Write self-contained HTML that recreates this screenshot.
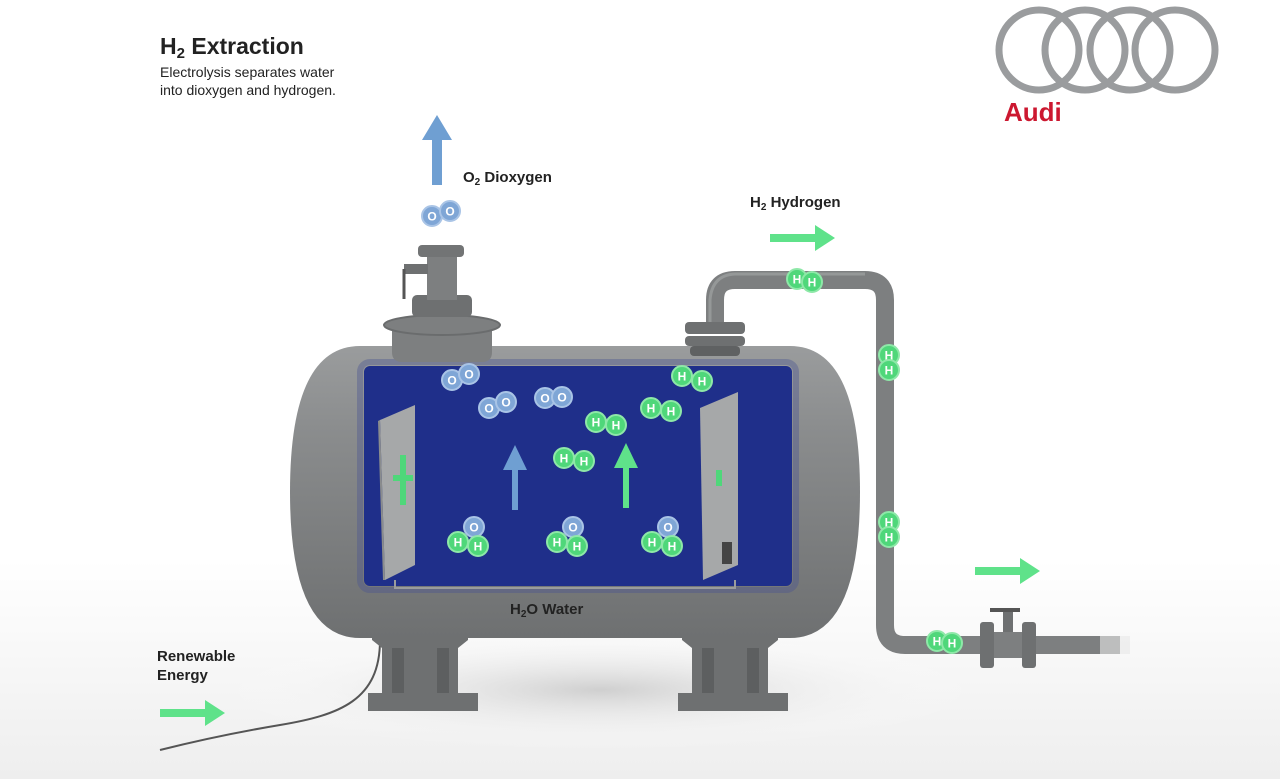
<!DOCTYPE html>
<html><head><meta charset="utf-8"><style>
body{margin:0;width:1280px;height:779px;overflow:hidden;background:#fff;font-family:"Liberation Sans",sans-serif}
svg{position:absolute;left:0;top:0}
</style></head><body>
<svg width="1280" height="779" viewBox="0 0 1280 779" font-family="Liberation Sans, sans-serif">
<defs>
<linearGradient id="tank" x1="0" y1="0" x2="0" y2="1">
<stop offset="0" stop-color="#9a9c9d"/><stop offset="0.3" stop-color="#8a8c8d"/><stop offset="1" stop-color="#6e7071"/></linearGradient>
<linearGradient id="floor" x1="0" y1="0" x2="0" y2="1">
<stop offset="0" stop-color="#fff"/><stop offset="1" stop-color="#eeeeee"/></linearGradient>
<radialGradient id="sh" cx="0.5" cy="0.5" r="0.5"><stop offset="0" stop-color="#cfcfcf"/><stop offset="1" stop-color="#fff" stop-opacity="0"/></radialGradient>
<g id="O"><circle r="10" fill="#7fa6d6" stroke="#a9c4e6" stroke-width="2"/><text y="4.5" text-anchor="middle" font-size="12" font-weight="bold" fill="#fff">O</text></g>
<g id="H"><circle r="10" fill="#4fd77a" stroke="#8ee8a8" stroke-width="2"/><text y="4.5" text-anchor="middle" font-size="12" font-weight="bold" fill="#fff">H</text></g>
</defs>
<rect x="0" y="560" width="1280" height="219" fill="url(#floor)"/>
<ellipse cx="600" cy="690" rx="380" ry="60" fill="url(#sh)"/>
<!-- text -->
<text x="160" y="54" font-size="23" font-weight="bold" fill="#222">H<tspan font-size="15" dy="4">2</tspan><tspan dy="-4"> Extraction</tspan></text>
<text x="160" y="77" font-size="14" fill="#222">Electrolysis separates water</text>
<text x="160" y="95" font-size="14" fill="#222">into dioxygen and hydrogen.</text>
<!-- Audi -->
<g fill="none" stroke="#9a9c9e" stroke-width="7">
<circle cx="1039" cy="50" r="40"/><circle cx="1085" cy="50" r="40"/><circle cx="1130" cy="50" r="40"/><circle cx="1175" cy="50" r="40"/></g>
<text x="1004" y="121" font-size="26" font-weight="bold" fill="#cc1830">Audi</text>
<!-- labels -->
<text x="463" y="182" font-size="15" font-weight="bold" fill="#222">O<tspan font-size="10" dy="3">2</tspan><tspan dy="-3"> Dioxygen</tspan></text>
<text x="750" y="207" font-size="15" font-weight="bold" fill="#222">H<tspan font-size="10" dy="3">2</tspan><tspan dy="-3"> Hydrogen</tspan></text>
<text x="157" y="661" font-size="15" font-weight="bold" fill="#222">Renewable</text>
<text x="157" y="680" font-size="15" font-weight="bold" fill="#222">Energy</text>
<!-- arrows -->
<g fill="#5fe28a">
<path d="M160 709h45v-9l20 13-20 13v-9h-45z"/>
<path d="M770 234h45v-9l20 13-20 13v-9h-45z"/>
<path d="M975 567h45v-9l20 13-20 13v-9h-45z"/>
</g>
<path d="M432 185v-45h-10l15-25 15 25h-10v45z" fill="#6f9fd2"/>
<use href="#O" x="432" y="216"/><use href="#O" x="450" y="211"/>
<!-- cable -->
<path d="M380 640 C380 700 340 715 280 725 C220 735 180 745 160 750" fill="none" stroke="#555" stroke-width="2"/>
<!-- pipe -->
<g fill="none" stroke="#7d7f80" stroke-width="18" stroke-linejoin="round">
<path d="M715 330 V300 Q715 280 735 280 H865 Q885 280 885 300 V625 Q885 645 905 645 H1120"/>
</g>
<g fill="none" stroke="#a0a2a3" stroke-width="3" opacity="0.7"><path d="M710 330 V300 Q712 275 735 274 H865"/></g>
<rect x="1100" y="636" width="30" height="18" fill="#e8e8e8" opacity="0.6"/>
<!-- valve on pipe -->
<rect x="980" y="622" width="14" height="46" rx="3" fill="#6e7071"/>
<rect x="1022" y="622" width="14" height="46" rx="3" fill="#6e7071"/>
<rect x="994" y="632" width="28" height="26" fill="#7d7f80"/>
<rect x="1003" y="610" width="10" height="22" fill="#6e7071"/>
<path d="M990 610h30" stroke="#555" stroke-width="4"/>
<use href="#H" x="797" y="279"/><use href="#H" x="812" y="282"/>
<use href="#H" x="889" y="355"/><use href="#H" x="889" y="370"/>
<use href="#H" x="889" y="522"/><use href="#H" x="889" y="537"/>
<use href="#H" x="937" y="641"/><use href="#H" x="952" y="643"/>
<!-- legs -->
<g fill="#6e7071">
<path d="M372 610h96v30l-10 8v45h20v18h-110v-18h14v-45l-10-8z"/>
<path d="M682 610h96v30l-10 8v45h20v18h-110v-18h14v-45l-10-8z"/>
</g>
<g fill="#5d5f60"><rect x="392" y="648" width="12" height="45"/><rect x="437" y="648" width="12" height="45"/><rect x="702" y="648" width="12" height="45"/><rect x="747" y="648" width="12" height="45"/></g>
<!-- tank -->
<path d="M360 346 H790 Q860 346 860 492 Q860 638 790 638 H360 Q290 638 290 492 Q290 346 360 346z" fill="url(#tank)"/>
<rect x="364" y="366" width="428" height="220" rx="6" fill="#1f2f8a"/>
<rect x="360" y="362" width="436" height="228" rx="10" fill="none" stroke="#4a5590" stroke-width="6" opacity="0.4"/>
<!-- top nozzle left -->
<path d="M392 330h100v22q0 10-10 10h-80q-10 0-10-10z" fill="#7d7f80"/>
<ellipse cx="442" cy="325" rx="58" ry="10" fill="#7d7f80" stroke="#6a6c6d" stroke-width="2"/>
<rect x="412" y="295" width="60" height="22" rx="5" fill="#6e7071"/>
<rect x="427" y="255" width="30" height="45" fill="#7d7f80"/>
<rect x="418" y="245" width="46" height="12" rx="4" fill="#727475"/>
<rect x="404" y="264" width="24" height="10" fill="#6e7071"/>
<path d="M404 269v30" stroke="#555" stroke-width="3"/>
<!-- top nozzle right -->
<rect x="685" y="322" width="60" height="12" rx="4" fill="#6e7071"/>
<rect x="685" y="336" width="60" height="10" rx="4" fill="#6e7071"/>
<rect x="690" y="346" width="50" height="10" rx="4" fill="#5f6162"/>
<!-- wires -->
<path d="M395 580v8h340v-8" fill="none" stroke="#9a9c9d" stroke-width="2"/>
<!-- plates -->
<path d="M380 420 L415 405 V565 L385 580z" fill="#a6a8a9"/>
<path d="M380 420 L385 580 L383 580 L378 421z" fill="#8a8c8d"/>
<path d="M700 408 L738 392 V565 L703 580z" fill="#a6a8a9"/>
<rect x="400" y="455" width="6" height="50" fill="#4fd77a"/><rect x="393" y="475" width="20" height="6" fill="#4fd77a"/>
<rect x="716" y="470" width="6" height="16" fill="#4fd77a"/>
<rect x="722" y="542" width="10" height="22" fill="#444"/>
<!-- arrows inside -->
<path d="M512 510v-40h-9l12-25 12 25h-9v40z" fill="#6f9fd2"/>
<path d="M623 508v-40h-9l12-25 12 25h-9v40z" fill="#5fe28a"/>
<!-- molecules -->
<use href="#O" x="452" y="380"/><use href="#O" x="469" y="374"/>
<use href="#O" x="489" y="408"/><use href="#O" x="506" y="402"/>
<use href="#O" x="545" y="398"/><use href="#O" x="562" y="397"/>
<use href="#H" x="682" y="376"/><use href="#H" x="702" y="381"/>
<use href="#H" x="651" y="408"/><use href="#H" x="671" y="411"/>
<use href="#H" x="596" y="422"/><use href="#H" x="616" y="425"/>
<use href="#H" x="564" y="458"/><use href="#H" x="584" y="461"/>
<use href="#O" x="474" y="527"/><use href="#H" x="458" y="542"/><use href="#H" x="478" y="546"/>
<use href="#O" x="573" y="527"/><use href="#H" x="557" y="542"/><use href="#H" x="577" y="546"/>
<use href="#O" x="668" y="527"/><use href="#H" x="652" y="542"/><use href="#H" x="672" y="546"/>
<text x="510" y="614" font-size="15" font-weight="bold" fill="#222">H<tspan font-size="10" dy="3">2</tspan><tspan dy="-3">O Water</tspan></text>
</svg>
</body></html>
